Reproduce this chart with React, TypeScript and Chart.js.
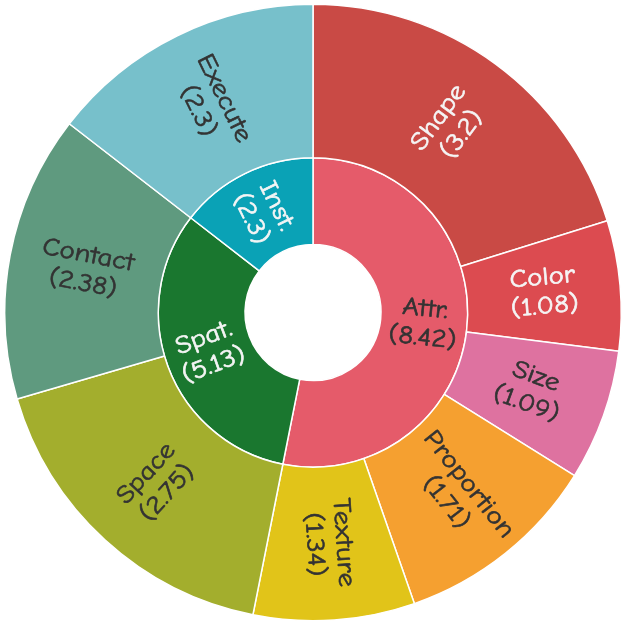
import React, { useEffect, useRef } from "react";
import { Chart, registerables } from "chart.js";

Chart.register(...registerables);

const innerLabels = ["Attr.", "Spat.", "Inst."];
const innerValues = [8.42, 5.13, 2.3];
const innerColors = ["#E55B6A", "#1A772F", "#0AA2B6"];
const innerTextColors = ["#333333", "#F5F5F5", "#F5F5F5"];

const outerLabels = ["Shape", "Color", "Size", "Proportion", "Texture", "Space", "Contact", "Execute"];
const outerValues = [3.2, 1.08, 1.09, 1.71, 1.34, 2.75, 2.38, 2.3];
const outerColors = ["#C94A45", "#DC4B50", "#DE72A0", "#F5A030", "#E1C419", "#A3AE2D", "#5F9A7F", "#77C0CB"];
const outerTextColors = ["#F5F5F5", "#F5F5F5", "#333333", "#333333", "#333333", "#333333", "#333333", "#333333"];

const FONT = '"Comic Sans MS", "Comic Neue", "Noto Sans", sans-serif';

const labelPlugin = {
  id: "sunLabels",
  afterDatasetsDraw(chart: any) {
    const ctx = chart.ctx;
    chart.data.datasets.forEach((ds: any, di: number) => {
      const meta = chart.getDatasetMeta(di);
      meta.data.forEach((arc: any, i: number) => {
        const { x, y, startAngle, endAngle, innerRadius, outerRadius } = arc;
        const a = (startAngle + endAngle) / 2;
        const r = (innerRadius + outerRadius) / 2;
        const px = x + Math.cos(a) * r;
        const py = y + Math.sin(a) * r;
        let rel = a + Math.PI / 2;
        while (rel < 0) rel += Math.PI * 2;
        while (rel >= Math.PI * 2) rel -= Math.PI * 2;
        const rot = rel <= Math.PI ? a : a + Math.PI;
        ctx.save();
        ctx.translate(px, py);
        ctx.rotate(rot);
        ctx.scale(1.15, 1);
        ctx.font = `25px ${FONT}`;
        ctx.textAlign = "center";
        ctx.textBaseline = "middle";
        ctx.fillStyle = ds.textColors[i];
        ctx.strokeStyle = ds.textColors[i];
        ctx.lineWidth = 0.6;
        const l1 = ds.labelsText[i];
        const l2 = `(${ds.data[i]})`;
        ctx.fillText(l1, 0, -14.5);
        ctx.strokeText(l1, 0, -14.5);
        ctx.fillText(l2, 0, 14.5);
        ctx.strokeText(l2, 0, 14.5);
        ctx.restore();
      });
    });
  },
};

export default function App() {
  const ref = useRef<HTMLCanvasElement>(null);
  useEffect(() => {
    document.body.style.margin = "0";
    const chart = new Chart(ref.current!, {
      type: "doughnut",
      data: {
        labels: outerLabels,
        datasets: [
          {
            data: outerValues,
            backgroundColor: outerColors,
            borderColor: "#ffffff",
            borderWidth: 1.5,
            weight: 154,
            labelsText: outerLabels,
            textColors: outerTextColors,
          } as any,
          {
            data: innerValues,
            backgroundColor: innerColors,
            borderColor: "#ffffff",
            borderWidth: 1.5,
            weight: 87,
            labelsText: innerLabels,
            textColors: innerTextColors,
          } as any,
        ],
      },
      options: {
        animation: false,
        responsive: false,
        cutout: 68,
        layout: { padding: { top: 3, bottom: 7, left: 4, right: 4 } },
        plugins: { legend: { display: false }, tooltip: { enabled: false } },
      },
      plugins: [labelPlugin],
    });
    return () => chart.destroy();
  }, []);
  return (
    <div style={{ width: 626, height: 629 }}>
      <canvas ref={ref} width={626} height={629} style={{ display: "block" }} />
    </div>
  );
}
